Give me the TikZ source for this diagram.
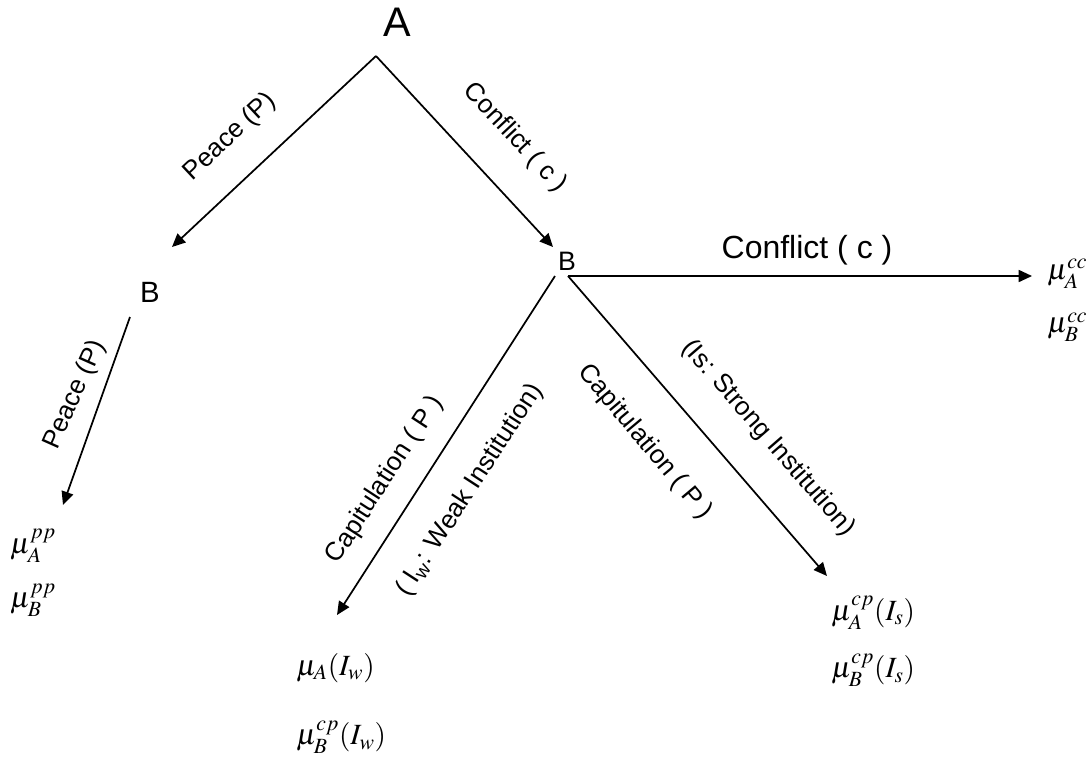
\documentclass[tikz,border=0pt]{standalone}
\usepackage{mathptmx}
\usepackage[no-math]{fontspec}
\setmainfont{Liberation Sans}
\usetikzlibrary{arrows.meta}

\begin{document}
\begin{tikzpicture}[x=0.75pt,y=-0.75pt,
	arr/.style={draw,line width=1.3pt,-{Triangle[length=10pt,width=9pt]}},
	lbl/.style={font=\fontsize{19.5}{21}\selectfont,inner sep=0pt},
	pay/.style={anchor=west,inner sep=0pt,font=\fontsize{22}{24}\selectfont}]
	\useasboundingbox (0,0) rectangle (1090,758);

	% players
	\node[font=\fontsize{31}{34}\selectfont,inner sep=0pt] (A) at (397,22) {A};
	\node[font=\fontsize{22}{24}\selectfont,inner sep=0pt] (B1) at (150,292) {B};
	\node[font=\fontsize{20}{22}\selectfont,inner sep=0pt] (B2) at (567,261) {B};

	% arrow ends
	\coordinate (a0) at (376,56);
	\coordinate (b1in) at (172,247);
	\coordinate (b2in) at (553,247);
	\coordinate (b1out) at (130,317);
	\coordinate (b2l) at (555,276);
	\coordinate (b2r) at (568,276);

	% payoffs
	\node[pay] (pA) at (10,546) {$\mu_A^{pp}$};
	\node[pay] (pB) at (10,600) {$\mu_B^{pp}$};
	\node[pay] (cA) at (1047,274) {$\mu_A^{cc}$};
	\node[pay] (cB) at (1047,327) {$\mu_B^{cc}$};
	\node[pay] (wA) at (296,668) {$\mu_A(I_w)$};
	\node[pay] (wB) at (296,737) {$\mu_B^{cp}(I_w)$};
	\node[pay] (sA) at (831,613) {$\mu_A^{cp}(I_s)$};
	\node[pay] (sB) at (831,670) {$\mu_B^{cp}(I_s)$};

	\coordinate (pEnd) at (63,505);
	\coordinate (cEnd) at (1032,276);
	\coordinate (wEnd) at (337,615);
	\coordinate (sEnd) at (827,576);

	% moves
	\path[arr] (a0) -- (b1in);
	\path[arr] (a0) -- (b2in);
	\path[arr] (b1out) -- (pEnd);
	\path[arr] (b2r) -- (cEnd);
	\path[arr] (b2l) -- (wEnd);
	\path[arr] (b2r) -- (sEnd);

	% labels
	\node[lbl,rotate=43] (l1) at (230,137) {Peace (P)};
	\node[lbl,rotate=-47] (l2) at (515,138) {Conflict ( c )};
	\node[lbl,rotate=66] (l3) at (75,395) {Peace (P)};
	\node[font=\fontsize{24}{26}\selectfont,inner sep=0pt] (l4) at (807,250) {Conflict ( c )};
	\node[lbl,rotate=57] (l5) at (385,480) {Capitulation ( P )};
	\node[lbl,rotate=57] (l6) at (470,490) {( I\textsubscript{w}: Weak Institution)};
	\node[lbl,rotate=-50] (l7) at (645,442) {Capitulation ( P )};
	\node[lbl,rotate=-49] (l8) at (768,438) {(Is: Strong Institution)};
\end{tikzpicture}
\end{document}
